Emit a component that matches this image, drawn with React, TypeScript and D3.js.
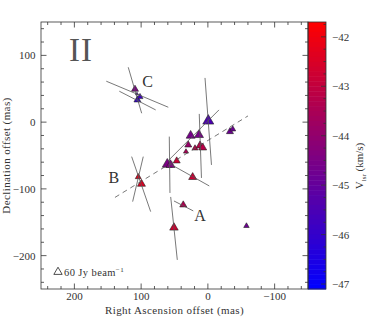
import React from "react";
import * as d3 from "d3";

// maser spots: RA offset (mas), Dec offset (mas), Vlsr (km/s), peak flux (Jy/beam)
const spotRa = [109.2, 105.5, 101.7, 106.2, 104.3, 99.5, -0.6, 25.8, 13.3, 29.4, 32.8, 19.3, 11.8, 7.8, 60.8, 56.0, 46.7, 22.8, 36.9, 50.8, -57.8, -33.1, -37.2];
const spotDec = [49.3, 33.3, 37.8, 42.2, -82.1, -92.6, 1.8, -20.2, -19.2, -34.2, -44.2, -39.1, -35.2, -38.2, -63.1, -64.1, -58.1, -82.5, -124.0, -158.1, -155.5, -14.2, -10.6];
const spotVel = [-44.5, -46.0, -45.8, -45.8, -42.3, -42.4, -45.5, -44.6, -44.6, -43.9, -43.5, -43.2, -43.2, -43.2, -44.5, -44.4, -42.8, -42.8, -43.4, -42.7, -44.8, -44.8, -44.8];
const spotFlux = [43, 43, 31, 8, 31, 56, 105, 70, 70, 43, 22, 31, 56, 56, 87, 70, 43, 56, 43, 63, 26, 43, 31];

// polarization vectors (solid): start/end in mas
const vecRa1 = [152.2, 132.7, 119.3, 114.2, 96.8, 4.3, 12.9, -16.6, 57.8, 56.8, 50.8, 55.7];
const vecDec1 = [61.3, 46.3, 82.2, -51.7, -51.7, 66.2, 12.3, 18.3, -21.7, -62.6, -118.1, -112.1];
const vecRa2 = [59.3, 78.2, 99.2, 85.7, 112.7, -5.4, 9.6, 59.8, 56.8, -2.1, 21.9, 45.8];
const vecDec2 = [22.3, 18.3, 13.3, -134.1, -119.1, -64.1, -83.6, -58.1, -106.1, -95.6, -133.0, -206.4];

// dashed line fit
const fitRa = [139.2, -60.1];
const fitDec = [-112.8, 9.3];

const groupNames = ["A", "B", "C"];
const groupRa = [11.8, 140.7, 90.5];
const groupDec = [-148, -91, 52.7];

const xTickLabels = [200, 100, 0, -100];
const yTickLabels = [100, 0, -100, -200];
const cbTickLabels = [-42, -43, -44, -45, -46, -47];

const W = 382;
const H = 330;
const left = 41;
const top = 22;
const pw = 267;
const ph = 267;
const cbW = 18;

const font = "'Liberation Serif', 'DejaVu Serif', serif";
const fmt = (v: number) => (v < 0 ? "\u2212" + Math.abs(v) : String(v));

export default function App() {
  const x = d3.scaleLinear().domain([250, -150]).range([left, left + pw]);
  const y = d3.scaleLinear().domain([150, -250]).range([top, top + ph]);
  const cbY = d3.scaleLinear().domain([-41.7, -47.1]).range([top, top + ph]);
  const color = d3.scaleLinear<string>().domain([-47.1, -41.7]).range(["#0000ff", "#ff0000"]).interpolate(d3.interpolateRgb);
  const side = d3.scaleSqrt().domain([0, 60]).range([0, 8.3]);

  const tri = (cx: number, cy: number, b: number) => {
    const h = b * 0.866;
    return `M${cx},${cy - (2 * h) / 3}L${cx + b / 2},${cy + h / 3}L${cx - b / 2},${cy + h / 3}Z`;
  };

  const xMinor = d3.range(-140, 250, 20);
  const yMinor = d3.range(-240, 150, 20);
  const cbMinor = d3.range(-47, -41.7, 0.25);
  const bands = d3.range(0, 54);
  const bandH = ph / bands.length;

  const order = d3.range(spotRa.length);

  return (
    <svg width={W} height={H} style={{ position: "absolute", left: 0, top: 0 }}>
      <rect width={W} height={H} fill="#fff" />
      {/* colour bar */}
      {bands.map((i) => (
        <rect key={i} x={left + pw} y={top + i * bandH} width={cbW} height={bandH + 0.5}
          fill={color(cbY.invert(top + (i + 0.5) * bandH))} />
      ))}
      <rect x={left + pw} y={top} width={cbW} height={ph} fill="none" stroke="#333" strokeWidth={0.8} />
      {cbMinor.map((v) => {
        const major = Math.abs(v - Math.round(v)) < 1e-6;
        return (
          <line key={v} x1={left + pw + cbW} x2={left + pw + cbW - (major ? 5 : 2.5)} y1={cbY(v)} y2={cbY(v)} stroke="#333" strokeWidth={0.8} />
        );
      })}
      {cbTickLabels.map((v) => (
        <text key={v} x={left + pw + cbW + 6} y={cbY(v) + 4} fontFamily={font} fontSize={11} fill="#333">{fmt(v)}</text>
      ))}
      <text transform={`translate(363,166) rotate(-90)`} textAnchor="middle" fontFamily={font} fontSize={11} fill="#333">
        V<tspan fontSize={7} dy={3}>lsr</tspan><tspan dy={-3}> (km/s)</tspan>
      </text>

      {/* plot frame + ticks */}
      <rect x={left} y={top} width={pw} height={ph} fill="none" stroke="#333" strokeWidth={0.8} />
      {xMinor.map((v) => {
        const len = v % 100 === 0 ? 5.5 : 3;
        return (
          <g key={v} stroke="#333" strokeWidth={0.8}>
            <line x1={x(v)} x2={x(v)} y1={top + ph} y2={top + ph - len} />
            <line x1={x(v)} x2={x(v)} y1={top} y2={top + len} />
          </g>
        );
      })}
      {yMinor.map((v) => {
        const len = v % 100 === 0 ? 5.5 : 3;
        return (
          <g key={v} stroke="#333" strokeWidth={0.8}>
            <line x1={left} x2={left + len} y1={y(v)} y2={y(v)} />
            <line x1={left + pw} x2={left + pw - len} y1={y(v)} y2={y(v)} />
          </g>
        );
      })}
      {xTickLabels.map((v) => (
        <text key={v} x={x(v)} y={300} textAnchor="middle" fontFamily={font} fontSize={11} fill="#333">{fmt(v)}</text>
      ))}
      {yTickLabels.map((v) => (
        <text key={v} x={35.5} y={y(v) + 4} textAnchor="end" fontFamily={font} fontSize={11} fill="#333">{fmt(v)}</text>
      ))}
      <text x={left + pw / 2} y={314} textAnchor="middle" fontFamily={font} fontSize={11} fill="#333" letterSpacing={0.4}>
        Right Ascension offset (mas)
      </text>
      <text transform={`translate(10,${top + ph / 2}) rotate(-90)`} textAnchor="middle" fontFamily={font} fontSize={11} fill="#333" letterSpacing={0.4}>
        Declination offset (mas)
      </text>

      {/* maser spots */}
      {order.map((i) => (
        <path key={i} d={tri(x(spotRa[i]), y(spotDec[i]), side(spotFlux[i]))} fill={color(spotVel[i])} stroke="#222" strokeWidth={0.6} />
      ))}

      {/* vectors */}
      {vecRa1.map((_, i) => (
        <line key={i} x1={x(vecRa1[i])} y1={y(vecDec1[i])} x2={x(vecRa2[i])} y2={y(vecDec2[i])} stroke="#555" strokeWidth={0.8} />
      ))}
      <line x1={x(fitRa[0])} y1={y(fitDec[0])} x2={x(fitRa[1])} y2={y(fitDec[1])} stroke="#555" strokeWidth={0.8} strokeDasharray="5,4" />

      {/* labels */}
      <text x={69} y={61} fontFamily={font} fontSize={33} fill="#555" letterSpacing={1}>II</text>
      {groupNames.map((n, i) => (
        <text key={n} x={x(groupRa[i])} y={y(groupDec[i])} textAnchor="middle" fontFamily={font} fontSize={16} fill="#333">{n}</text>
      ))}

      {/* legend */}
      <path d={tri(58, 272, side(60))} fill="none" stroke="#222" strokeWidth={0.8} />
      <text x={64} y={275.5} fontFamily={font} fontSize={10.5} fill="#333" letterSpacing={0.4}>
        60 Jy beam<tspan fontSize={7} dy={-4}>{"\u22121"}</tspan>
      </text>
    </svg>
  );
}
